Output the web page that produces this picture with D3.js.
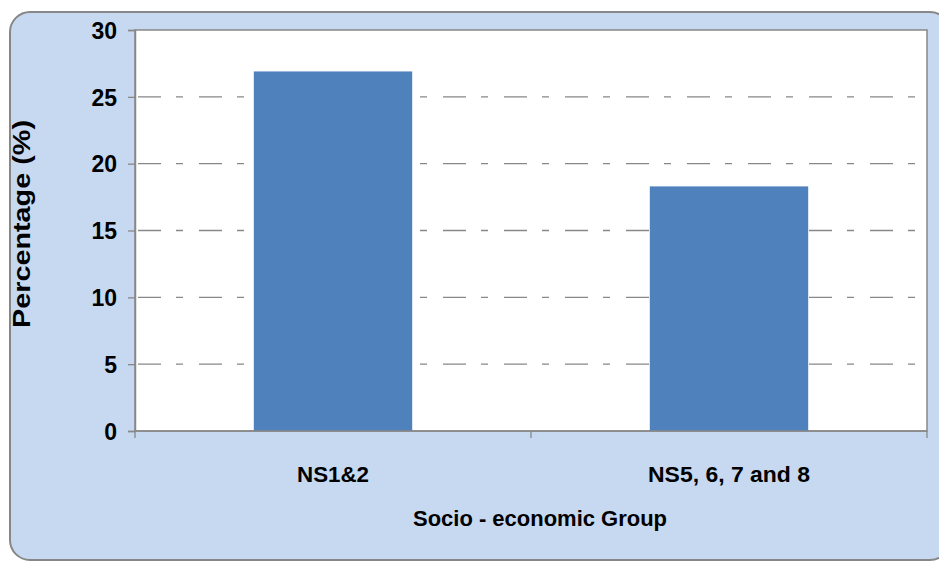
<!DOCTYPE html>
<html>
<head>
<meta charset="utf-8">
<script src="https://cdn.jsdelivr.net/npm/d3@7"></script>
<style>
  html, body { margin: 0; padding: 0; background: #ffffff; }
  svg { display: block; font-family: "Liberation Sans", Arial, sans-serif; }
</style>
</head>
<body>
<svg id="chart"></svg>
<script>
const categories = ["NS1&2", "NS5, 6, 7 and 8"];
const values = [26.9, 18.3];
const yTicks = [0, 5, 10, 15, 20, 25, 30];
const labelWidths = [72, 162];

const width = 939;
const height = 562;

const svg = d3.select("#chart")
    .attr("width", width)
    .attr("height", height);

// cadre arrondi
svg.append("rect")
    .attr("x", 10)
    .attr("y", 12)
    .attr("width", 940)
    .attr("height", 548)
    .attr("rx", 20)
    .attr("fill", "#c6d9f0")
    .attr("stroke", "#878787")
    .attr("stroke-width", 2);

const plot = { left: 135, right: 927, top: 30, bottom: 431 };

const x = d3.scaleBand()
    .domain(categories)
    .range([plot.left, plot.right])
    .paddingInner(0.6)
    .paddingOuter(0.3);

const y = d3.scaleLinear()
    .domain([0, 30])
    .range([plot.bottom, plot.top]);

svg.append("rect")
    .attr("x", plot.left)
    .attr("y", plot.top)
    .attr("width", plot.right - plot.left)
    .attr("height", plot.bottom - plot.top)
    .attr("fill", "#ffffff")
    .attr("stroke", "#888888")
    .attr("stroke-width", 1.5);

// grille
svg.append("g")
    .selectAll("line")
    .data(yTicks.filter(d => d > 0 && d < 30))
    .enter()
    .append("line")
    .attr("x1", plot.left)
    .attr("x2", plot.right)
    .attr("y1", d => y(d))
    .attr("y2", d => y(d))
    .attr("stroke", "#888888")
    .attr("stroke-width", 1.3)
    .attr("stroke-dasharray", "23 15 7 16")
    .attr("stroke-dashoffset", 58);

// barres
svg.append("g")
    .selectAll("rect")
    .data(values)
    .enter()
    .append("rect")
    .attr("x", (d, i) => x(categories[i]))
    .attr("y", d => y(d))
    .attr("width", x.bandwidth())
    .attr("height", d => y(0) - y(d))
    .attr("fill", "#4f81bd");

// axe y
const yAxis = svg.append("g")
    .attr("transform", `translate(${plot.left},0)`)
    .call(d3.axisLeft(y).tickValues(yTicks).tickSize(7).tickPadding(11));

yAxis.select(".domain").attr("stroke", "#888888").attr("stroke-width", 1.5);
yAxis.selectAll(".tick line").attr("stroke", "#888888").attr("stroke-width", 1.3);
yAxis.selectAll(".tick text")
    .attr("fill", "#000000")
    .attr("font-size", 23)
    .attr("font-weight", "bold")
    .attr("dy", "0.36em")
    .attr("font-family", "Liberation Sans, Arial, sans-serif");

// axe x
const xEdges = d3.scaleLinear().domain([0, categories.length]).range([plot.left, plot.right]);

svg.append("line")
    .attr("x1", plot.left)
    .attr("x2", plot.right)
    .attr("y1", plot.bottom)
    .attr("y2", plot.bottom)
    .attr("stroke", "#888888")
    .attr("stroke-width", 1.5);

svg.append("g")
    .selectAll("line")
    .data(d3.range(categories.length + 1))
    .enter()
    .append("line")
    .attr("x1", d => xEdges(d))
    .attr("x2", d => xEdges(d))
    .attr("y1", plot.bottom)
    .attr("y2", plot.bottom + 7)
    .attr("stroke", "#888888")
    .attr("stroke-width", 1.3);

svg.append("g")
    .selectAll("text")
    .data(categories)
    .enter()
    .append("text")
    .attr("x", d => x(d) + x.bandwidth() / 2)
    .attr("y", 482)
    .attr("text-anchor", "middle")
    .attr("font-size", 22)
    .attr("font-weight", "bold")
    .attr("textLength", (d, i) => labelWidths[i])
    .attr("lengthAdjust", "spacingAndGlyphs")
    .text(d => d);

svg.append("text")
    .attr("x", 540)
    .attr("y", 526)
    .attr("text-anchor", "middle")
    .attr("font-size", 22)
    .attr("font-weight", "bold")
    .attr("textLength", 254)
    .attr("lengthAdjust", "spacingAndGlyphs")
    .text("Socio - economic Group");

svg.append("text")
    .attr("transform", `translate(30,224) rotate(-90)`)
    .attr("text-anchor", "middle")
    .attr("font-size", 23)
    .attr("font-weight", "bold")
    .attr("textLength", 208)
    .attr("lengthAdjust", "spacingAndGlyphs")
    .text("Percentage (%)");
</script>
</body>
</html>
